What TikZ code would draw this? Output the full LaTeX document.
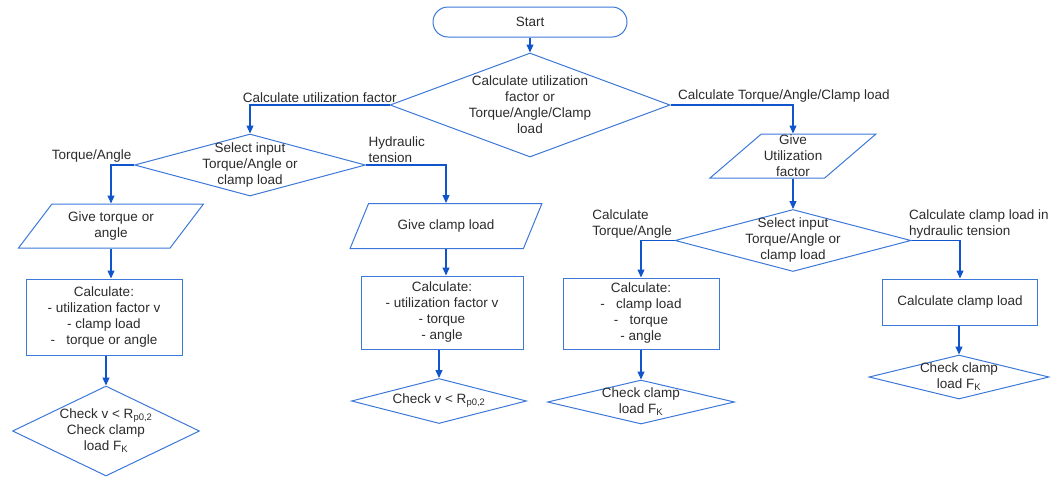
\documentclass[tikz,border=0pt]{standalone}
\usepackage{fontspec}
\setmainfont{Liberation Sans}
\usepackage{tikz}
\usetikzlibrary{arrows.meta,positioning,calc,shapes.geometric}
\definecolor{shapeblue}{HTML}{3C78D8}
\definecolor{linkblue}{HTML}{1155CC}
\definecolor{inkgray}{HTML}{2B2B2B}
\tikzstyle{terminal}=[draw=shapeblue,line width=1pt,rounded corners=15pt,minimum width=194pt,minimum height=30pt,text=inkgray]
\tikzstyle{decision}=[draw=shapeblue,line width=1pt,diamond,inner sep=0pt]
\tikzstyle{dtext}=[text=inkgray,align=center,inner sep=0pt]
\tikzstyle{io}=[draw=shapeblue,line width=1pt,trapezium,trapezium left angle=51,trapezium right angle=129,trapezium stretches=true,inner sep=1pt,text=inkgray,align=center]
\tikzstyle{process}=[draw=shapeblue,line width=1pt,rectangle,inner sep=2pt,text=inkgray,align=center]
\tikzstyle{link}=[draw=linkblue,line width=1.1pt,-{Triangle[length=8pt,width=7pt]}]
\tikzstyle{branch}=[text=inkgray,inner sep=2pt,align=left]

\begin{document}
\begin{tikzpicture}[x=1pt,y=-1pt,font=\fontsize{13.5}{16}\selectfont]
\useasboundingbox (0,0) rectangle (1056,477);

% top
\node [terminal] (start) at (530,22) {Start};
\node [decision,minimum width=280pt,minimum height=104pt,
  label={[dtext]center:{Calculate utilization\\factor or\\Torque/Angle/Clamp\\load}}] (goal) at (530,105) {};

% left part: utilization factor
\node [decision,minimum width=231pt,minimum height=62pt,
  label={[dtext]center:{Select input\\Torque/Angle or\\clamp load}}] (sel1) at (250,165) {};
\node [io,minimum width=185pt,minimum height=44pt] (give1) at (111,226) {Give torque or\\angle};
\node [process,minimum width=156pt,minimum height=76pt] (calc1) at (104,317)
  {Calculate:\\- utilization factor v\\- clamp load\\-~~~torque or angle};
\node [decision,minimum width=187pt,minimum height=90pt,
  label={[dtext]center:{Check v < R\textsubscript{p0,2}\\Check clamp\\load F\textsubscript{K}}}] (check1) at (106,431) {};

\node [io,minimum width=192pt,minimum height=45pt] (give2) at (446,226) {Give clamp load};
\node [process,minimum width=162pt,minimum height=73pt] (calc2) at (442,312.5)
  {Calculate:\\- utilization factor v\\- torque\\- angle};
\node [decision,minimum width=175pt,minimum height=45pt,
  label={[dtext]center:{Check v < R\textsubscript{p0,2}}}] (check2) at (439,401) {};

% right part: torque/angle/clamp load
\node [io,minimum width=166pt,minimum height=44pt,
  label={[dtext]center:{Give\\Utilization\\factor}}] (give3) at (793,156) {};
\node [decision,minimum width=236pt,minimum height=62pt,
  label={[dtext]center:{Select input\\Torque/Angle or\\clamp load}}] (sel2) at (793,240.5) {};
\node [process,minimum width=156pt,minimum height=71pt] (calc3) at (641,313.5)
  {Calculate:\\-~~~clamp load\\-~~~torque\\- angle};
\node [decision,minimum width=187pt,minimum height=44pt,
  label={[dtext]center:{Check clamp\\load F\textsubscript{K}}}] (check3) at (641,402) {};
\node [process,minimum width=155pt,minimum height=46pt] (calc4) at (960,302) {Calculate clamp load};
\node [decision,minimum width=180pt,minimum height=44pt,
  label={[dtext]center:{Check clamp\\load F\textsubscript{K}}}] (check4) at (959,377) {};

% connectors
\draw [link] (start) -- (goal.north);
\draw [link] (goal.west) -- node [branch,above] {Calculate utilization factor} (goal.west -| sel1.north) -- (sel1.north);
\draw [link] (goal.east) -- node [branch,above right,pos=0,xshift=5pt] {Calculate Torque/Angle/Clamp load} (goal.east -| give3.north) -- (give3.north);

\draw [link] (sel1.west) node [branch,above left] {Torque/Angle} -| (give1.north);
\draw [link] (sel1.east) node [branch,above right] {Hydraulic\\tension} -| (give2.north);
\draw [link] (give1.south) -- (give1.south |- calc1.north);
\draw [link] (check1.north |- calc1.south) -- (check1.north);
\draw [link] (give2.south) -- (give2.south |- calc2.north);
\draw [link] (check2.north |- calc2.south) -- (check2.north);

\draw [link] (give3.south) -- (sel2.north);
\draw [link] (sel2.west) node [branch,above left] {Calculate\\Torque/Angle} -| (calc3.north);
\draw [link] (sel2.east) node [branch,above right,xshift=-5pt] {Calculate clamp load in\\hydraulic tension} -| (calc4.north);
\draw [link] (calc3.south) -- (check3.north);
\draw [link] (check4.north |- calc4.south) -- (check4.north);
\end{tikzpicture}
\end{document}
